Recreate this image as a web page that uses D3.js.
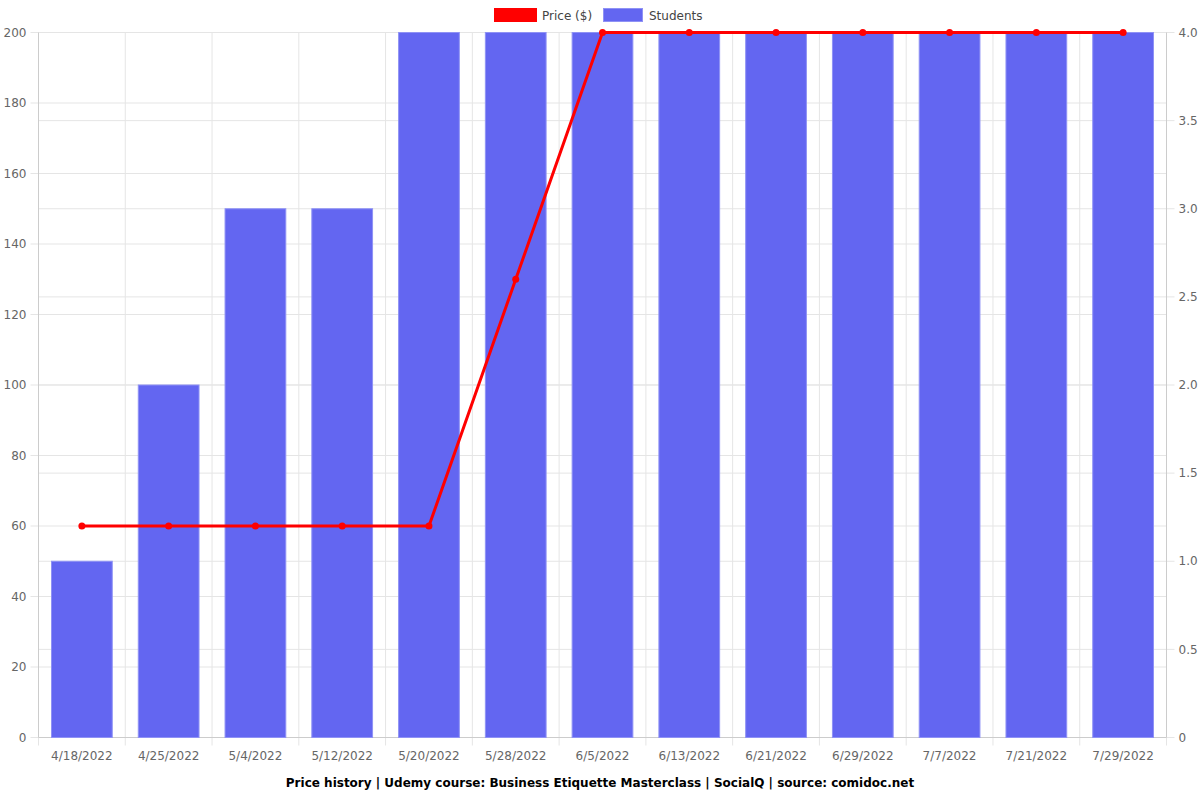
<!DOCTYPE html>
<html><head><meta charset="utf-8">
<script src="https://cdn.jsdelivr.net/npm/d3@7/dist/d3.min.js"></script>
<style>body{margin:0;background:#fff;font-family:"DejaVu Sans",sans-serif;}</style>
</head><body><svg id="c" width="1200" height="800"></svg>
<script>
const categories = ["4/18/2022","4/25/2022","5/4/2022","5/12/2022","5/20/2022","5/28/2022","6/5/2022","6/13/2022","6/21/2022","6/29/2022","7/7/2022","7/21/2022","7/29/2022"];
const price = [59.99,59.99,59.99,59.99,59.99,129.99,199.99,199.99,199.99,199.99,199.99,199.99,199.99];
const students = [1,2,3,3,4,4,4,4,4,4,4,4,4];
const leftTicks = [0,20,40,60,80,100,120,140,160,180,200];
const rightTicks = [0,0.5,1,1.5,2,2.5,3,3.5,4];
const title = "Price history | Udemy course: Business Etiquette Masterclass | SocialQ | source: comidoc.net";

const svg = d3.select("#c");
const L=38.5,R=1166.5,T=32.5,B=737.5;
const x = d3.scaleBand().domain(categories).range([L,R]).paddingInner(0).paddingOuter(0);
const yL = d3.scaleLinear().domain([0,200]).range([B,T]);
const yR = d3.scaleLinear().domain([0,4]).range([B,T]);
const grid = "#e5e5e5";
const g = svg.append("g");
rightTicks.forEach(t=>g.append("line").attr("x1",L).attr("x2",R).attr("y1",yR(t)).attr("y2",yR(t)).attr("stroke",grid));
leftTicks.forEach(t=>g.append("line").attr("x1",L-8).attr("x2",R).attr("y1",yL(t)).attr("y2",yL(t)).attr("stroke",grid));
rightTicks.forEach(t=>g.append("line").attr("x1",R).attr("x2",R+8).attr("y1",yR(t)).attr("y2",yR(t)).attr("stroke",grid));
const bounds = categories.map(c=>x(c)).concat([R]);
bounds.forEach(b=>g.append("line").attr("x1",b).attr("x2",b).attr("y1",T).attr("y2",B+8).attr("stroke",grid));
g.append("line").attr("x1",L).attr("x2",L).attr("y1",T).attr("y2",B).attr("stroke","#ccc");
g.append("line").attr("x1",R).attr("x2",R).attr("y1",T).attr("y2",B).attr("stroke","#ccc");
g.append("line").attr("x1",L).attr("x2",R).attr("y1",B).attr("y2",B).attr("stroke","#ccc");
leftTicks.forEach(t=>g.append("text").attr("x",L-12).attr("y",yL(t)).attr("dy","0.35em").attr("text-anchor","end").attr("font-size",12).attr("fill","#666").text(t));
rightTicks.forEach(t=>g.append("text").attr("x",R+12).attr("y",yR(t)).attr("dy","0.35em").attr("text-anchor","start").attr("font-size",12).attr("fill","#666").text(t===0?"0":t.toFixed(1)));
categories.forEach(c=>g.append("text").attr("x",x(c)+x.bandwidth()/2).attr("y",756).attr("dy","0.35em").attr("text-anchor","middle").attr("font-size",12).attr("fill","#666").text(c));
const bw = x.bandwidth()*0.7;
svg.append("g").selectAll("rect").data(categories).join("rect")
  .attr("x",(c)=>x(c)+(x.bandwidth()-bw)/2).attr("width",bw)
  .attr("y",(c,i)=>yR(students[i])).attr("height",(c,i)=>B-yR(students[i]))
  .attr("fill","#6366f1").attr("stroke","#8f92f5").attr("stroke-width",1);
const line = d3.line().x((d,i)=>x(categories[i])+x.bandwidth()/2).y(d=>yL(d));
svg.append("path").datum(price).attr("d",line).attr("fill","none").attr("stroke","#ff0000").attr("stroke-width",3);
svg.append("g").selectAll("circle").data(price).join("circle")
  .attr("cx",(d,i)=>x(categories[i])+x.bandwidth()/2).attr("cy",d=>yL(d)).attr("r",3.5).attr("fill","#ff0000");
const lg = svg.append("g");
lg.append("rect").attr("x",494).attr("y",8).attr("width",43).attr("height",14).attr("fill","#ff0000");
lg.append("text").attr("x",542).attr("y",16).attr("dy","0.35em").attr("font-size",12).attr("fill","#444").text("Price ($)");
lg.append("rect").attr("x",603.5).attr("y",8.5).attr("width",39).attr("height",13).attr("fill","#6366f1").attr("stroke","#8f92f5");
lg.append("text").attr("x",649).attr("y",16).attr("dy","0.35em").attr("font-size",12).attr("fill","#444").text("Students");
svg.append("text").attr("x",600).attr("y",783).attr("dy","0.35em").attr("text-anchor","middle").attr("font-size",12).attr("font-weight","bold").attr("fill","#000").text(title);
</script></body></html>
